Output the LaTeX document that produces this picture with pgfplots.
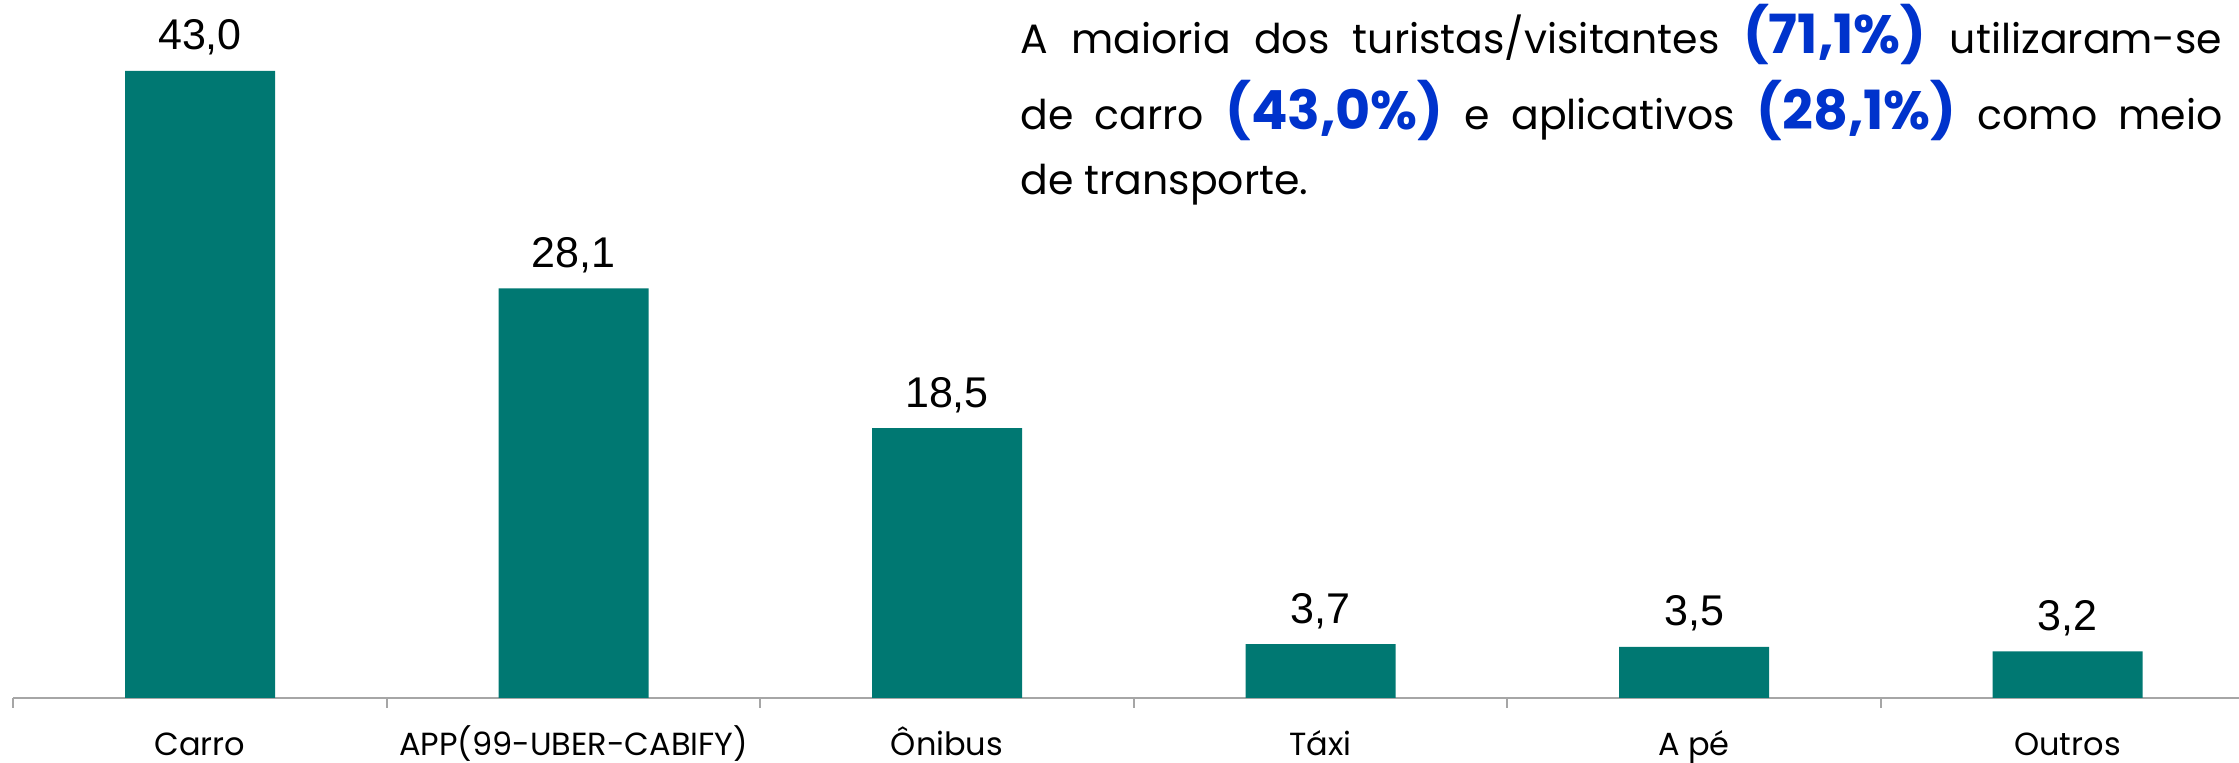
\documentclass[border=0pt]{standalone}
\usepackage{fontspec}
\setmainfont{Poppins}
\newfontfamily\lab{Liberation Sans}
\usepackage{pgfplots}
\pgfplotsset{compat=1.18}
\definecolor{barteal}{RGB}{0,120,114}
\definecolor{hblue}{RGB}{0,51,204}
\definecolor{axgray}{RGB}{166,166,166}
\begin{document}
\begin{tikzpicture}
\useasboundingbox (0,0) rectangle (1119.5pt,381.5pt);
\begin{axis}[
  at={(6.625pt,32.5pt)}, anchor=south west,
  scale only axis, width=1113pt, height=349pt,
  xmin=-0.5, xmax=5.46, ymin=0, ymax=47.87,
  axis y line=none, axis x line*=bottom,
  x axis line style={draw=axgray, line width=1pt, -},
  xtick={0,1,2,3,4,5},
  xticklabels={Carro, APP(99-UBER-CABIFY), Ônibus, Táxi, A pé, Outros},
  major tick length=0pt,
  minor xtick={-0.5,0.5,1.5,2.5,3.5,4.5},
  minor tick length=5pt, tick align=outside,
  minor x tick style={draw=axgray, line width=1pt},
  major x tick style={draw=none},
  xticklabel style={font=\fontsize{16}{19}\selectfont, anchor=base, yshift=-29pt, inner sep=0pt},
  ybar, bar width=75pt,
  nodes near coords,
  nodes near coords style={font=\lab\fontsize{21.5}{25}\selectfont, anchor=base, yshift=10.5pt, text=black},
  /pgf/number format/.cd, fixed, fixed zerofill, precision=1, use comma, assume math mode=true,
  /pgfplots/.cd,
  clip=false,
]
\addplot[fill=barteal, draw=none] coordinates {(0,43.0) (1,28.1) (2,18.5) (3,3.7) (4,3.5) (5,3.2)};
\end{axis}
\node[anchor=base west, inner sep=0pt, font=\fontsize{20.5}{24}\selectfont] at (510pt,354.85pt)
  {\makebox[601pt][s]{A maioria dos turistas/visitantes \textcolor{hblue}{\fontsize{27}{30}\selectfont\bfseries(71,1\%)} utilizaram-se}};
\node[anchor=base west, inner sep=0pt, font=\fontsize{20.5}{24}\selectfont] at (510pt,316.85pt)
  {\makebox[601pt][s]{de carro \textcolor{hblue}{\fontsize{27}{30}\selectfont\bfseries(43,0\%)} e aplicativos \textcolor{hblue}{\fontsize{27}{30}\selectfont\bfseries(28,1\%)} como meio}};
\node[anchor=base west, inner sep=0pt, font=\fontsize{20.5}{24}\selectfont] at (510pt,284pt)
  {de transporte.};
\end{tikzpicture}
\end{document}
